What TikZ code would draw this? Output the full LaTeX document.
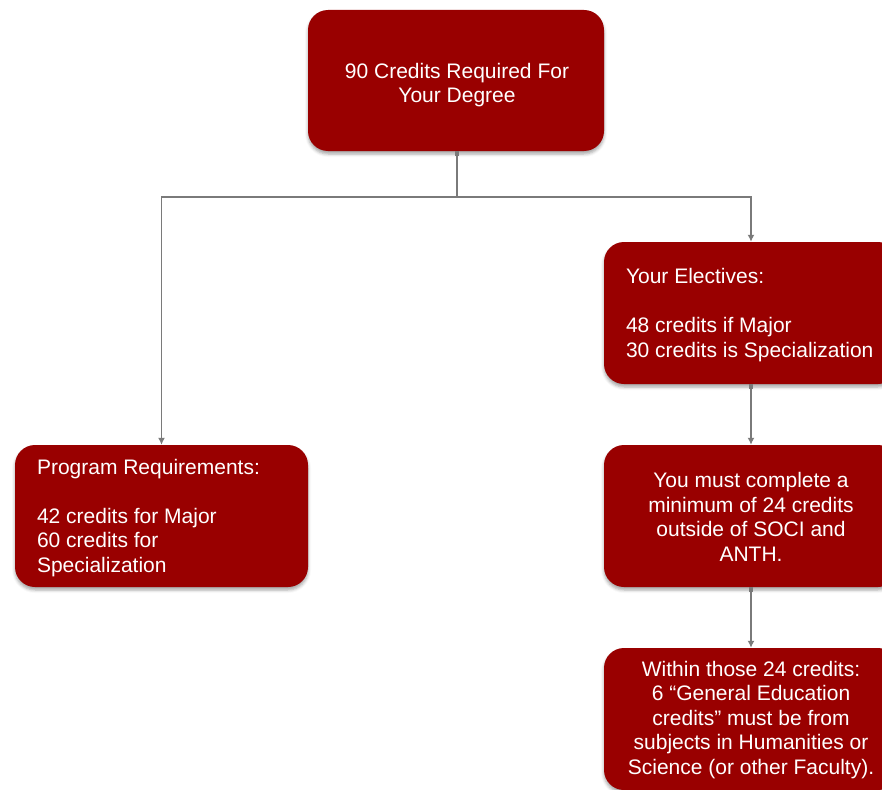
\documentclass[tikz,border=0pt]{standalone}
\usepackage{fontspec}
\setmainfont{Liberation Sans}
\usetikzlibrary{arrows.meta,shadows.blur}
\definecolor{boxred}{HTML}{990000}
\definecolor{conn}{HTML}{7A7A7A}
\tikzset{
  box/.style={draw=none, fill=boxred, rounded corners=20pt, inner sep=0pt,
    blur shadow={shadow xshift=0pt, shadow yshift=-3pt, shadow blur radius=3pt, shadow opacity=35}},
  txt/.style={text=white, font=\fontsize{21}{24.5}\selectfont, inner sep=0pt},
  link/.style={draw=conn, line width=1.5pt, {Square[length=4.5pt,width=4.5pt]}-{Latex[length=7pt,width=7pt]}},
  linkplain/.style={draw=conn, line width=1.5pt, -{Latex[length=7pt,width=7pt]}}
}
\begin{document}
\begin{tikzpicture}[x=1pt,y=-1pt]
\useasboundingbox (0,0) rectangle (882,789);
\begin{scope}
\clip (0,0) rectangle (882,789);
% boxes
\node[box, minimum width=296pt, minimum height=141pt] (top) at (456,80.5) {};
\node[box, minimum width=294pt, minimum height=142pt] (elect) at (751,313) {};
\node[box, minimum width=293pt, minimum height=142pt] (prog) at (161.5,516) {};
\node[box, minimum width=294pt, minimum height=142pt] (mid) at (751,516) {};
\node[box, minimum width=294pt, minimum height=142pt] (bot) at (751,719) {};
% texts
\node[txt, align=center] (toptxt) at (457,85) {90 Credits Required For\\Your Degree};
\node[txt, align=left, anchor=west] (electtxt) at ([xshift=22pt,yshift=-2pt]elect.west) {Your Electives:\\[24.5pt]48 credits if Major\\30 credits is Specialization};
\node[txt, align=left, anchor=west] (progtxt) at ([xshift=22pt,yshift=-2pt]prog.west) {Program Requirements:\\[24.5pt]42 credits for Major\\60 credits for\\Specialization};
\node[txt, align=center] (midtxt) at (751,517) {You must complete a\\minimum of 24 credits\\outside of SOCI and\\ANTH.};
\node[txt, align=center] (bottxt) at (751,720) {Within those 24 credits:\\6 “General Education\\credits” must be from\\subjects in Humanities or\\Science (or other Faculty).};
\end{scope}
% connectors
\coordinate (split) at ([xshift=1pt]top.south |- 0,197);
\draw[link] ([xshift=1pt]top.south) -- (split) -| (prog.north);
\draw[linkplain] (split) -| (elect.north);
\draw[link] (elect.south) -- (mid.north);
\draw[link] (mid.south) -- (bot.north);
\end{tikzpicture}
\end{document}
